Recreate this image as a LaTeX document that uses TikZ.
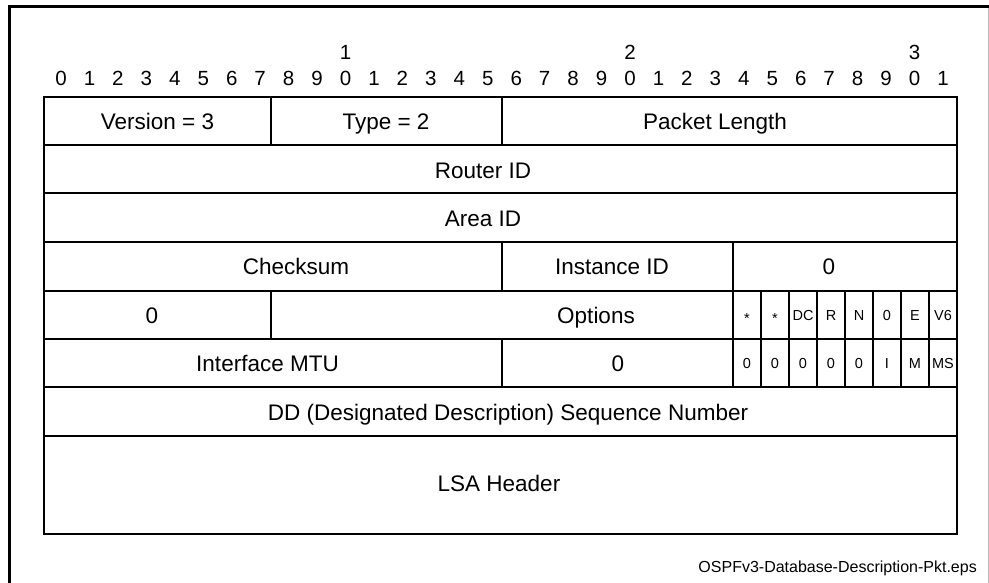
\documentclass[tikz,border=0pt]{standalone}
\usepackage{fontspec}
\setmainfont{Liberation Sans}
\begin{document}
\begin{tikzpicture}[x=1pt,y=-1pt,
  lbl/.style={inner sep=0pt, text height=16.1pt, text depth=0pt, font=\fontsize{22.5}{24}\selectfont},
  bitnum/.style={inner sep=0pt, text height=14.7pt, text depth=0pt, font=\fontsize{20.5}{22}\selectfont},
  flag/.style={inner sep=0pt, text height=10.4pt, text depth=0pt, font=\fontsize{14.5}{16}\selectfont},
  grid/.style={line width=2.5pt, line cap=rect},
  vgrid/.style={line width=2.2pt},
]
\useasboundingbox (0,0) rectangle (989,583);
\fill[white] (0,0) rectangle (989,583);
% outer frame
\draw[line width=3pt] (9.5,583) -- (9.5,7) -- (989,7);
\draw[gray!55, line width=1pt] (988.5,8.5) -- (988.5,583);

% bit numbers
\foreach \i in {0,...,31} {
  \pgfmathtruncatemacro\d{mod(\i,10)}
  \node[bitnum] (u\i) at ({61+28.45*\i},78.5) {\d};
}
\node[bitnum] (t1) at (345.5,52.5) {1};
\node[bitnum] (t2) at (630,52.5) {2};
\node[bitnum] (t3) at (914.5,52.5) {3};

% table grid
\draw[grid] (44,97) rectangle (957,534);
\foreach \y in {145,193,242,291,339,387,436} {
  \draw[grid] (44,\y) -- (957,\y);
}
\draw[vgrid] (271,97) -- (271,145);
\draw[vgrid] (502,97) -- (502,145);
\draw[vgrid] (502,242) -- (502,291);
\draw[vgrid] (733,242) -- (733,387);
\draw[vgrid] (271,291) -- (271,339);
\draw[vgrid] (502,339) -- (502,387);
\foreach \x in {761,789,817,845,873,901,929} {
  \draw[vgrid] (\x,291) -- (\x,387);
}

% row 1
\node[lbl] (ver) at (157.5,121) {Version = 3};
\node[lbl] (typ) at (386,121) {Type = 2};
\node[lbl] (plen) at (715,121) {Packet Length};
% rows 2,3
\node[lbl] (rid) at (483,170) {Router ID};
\node[lbl] (aid) at (483,218) {Area ID};
% row 4
\node[lbl] (csum) at (296,266.5) {Checksum};
\node[lbl] (iid) at (612,266.5) {Instance ID};
\node[lbl] (zeroa) at (829,266.5) {0};
% row 5
\node[lbl] (zerob) at (152,315) {0};
\node[lbl] (opts) at (596,315) {Options};
\node[flag] (f1) at (747,315) {\raisebox{-0.22em}{*}};
\node[flag] (f2) at (775,315) {\raisebox{-0.22em}{*}};
\node[flag] (f3) at (803,315) {DC};
\node[flag] (f4) at (831,315) {R};
\node[flag] (f5) at (859,315) {N};
\node[flag] (f6) at (887,315) {0};
\node[flag] (f7) at (915,315) {E};
\node[flag] (f8) at (943,315) {V6};
% row 6
\node[lbl] (mtu) at (267.5,363) {Interface MTU};
\node[lbl] (zeroc) at (618,363) {0};
\node[flag] (g1) at (747,363) {0};
\node[flag] (g2) at (775,363) {0};
\node[flag] (g3) at (803,363) {0};
\node[flag] (g4) at (831,363) {0};
\node[flag] (g5) at (859,363) {0};
\node[flag] (g6) at (887,363) {I};
\node[flag] (g7) at (915,363) {M};
\node[flag] (g8) at (943,363) {MS};
% rows 7,8
\node[lbl] (dd) at (508,412) {DD (Designated Description) Sequence Number};
\node[lbl] (lsa) at (499,483) {LSA Header};

% file name
\node[anchor=base east, inner sep=0pt, font=\fontsize{16}{18}\selectfont] (fname) at (977,572) {OSPFv3-Database-Description-Pkt.eps};
\end{tikzpicture}
\end{document}
